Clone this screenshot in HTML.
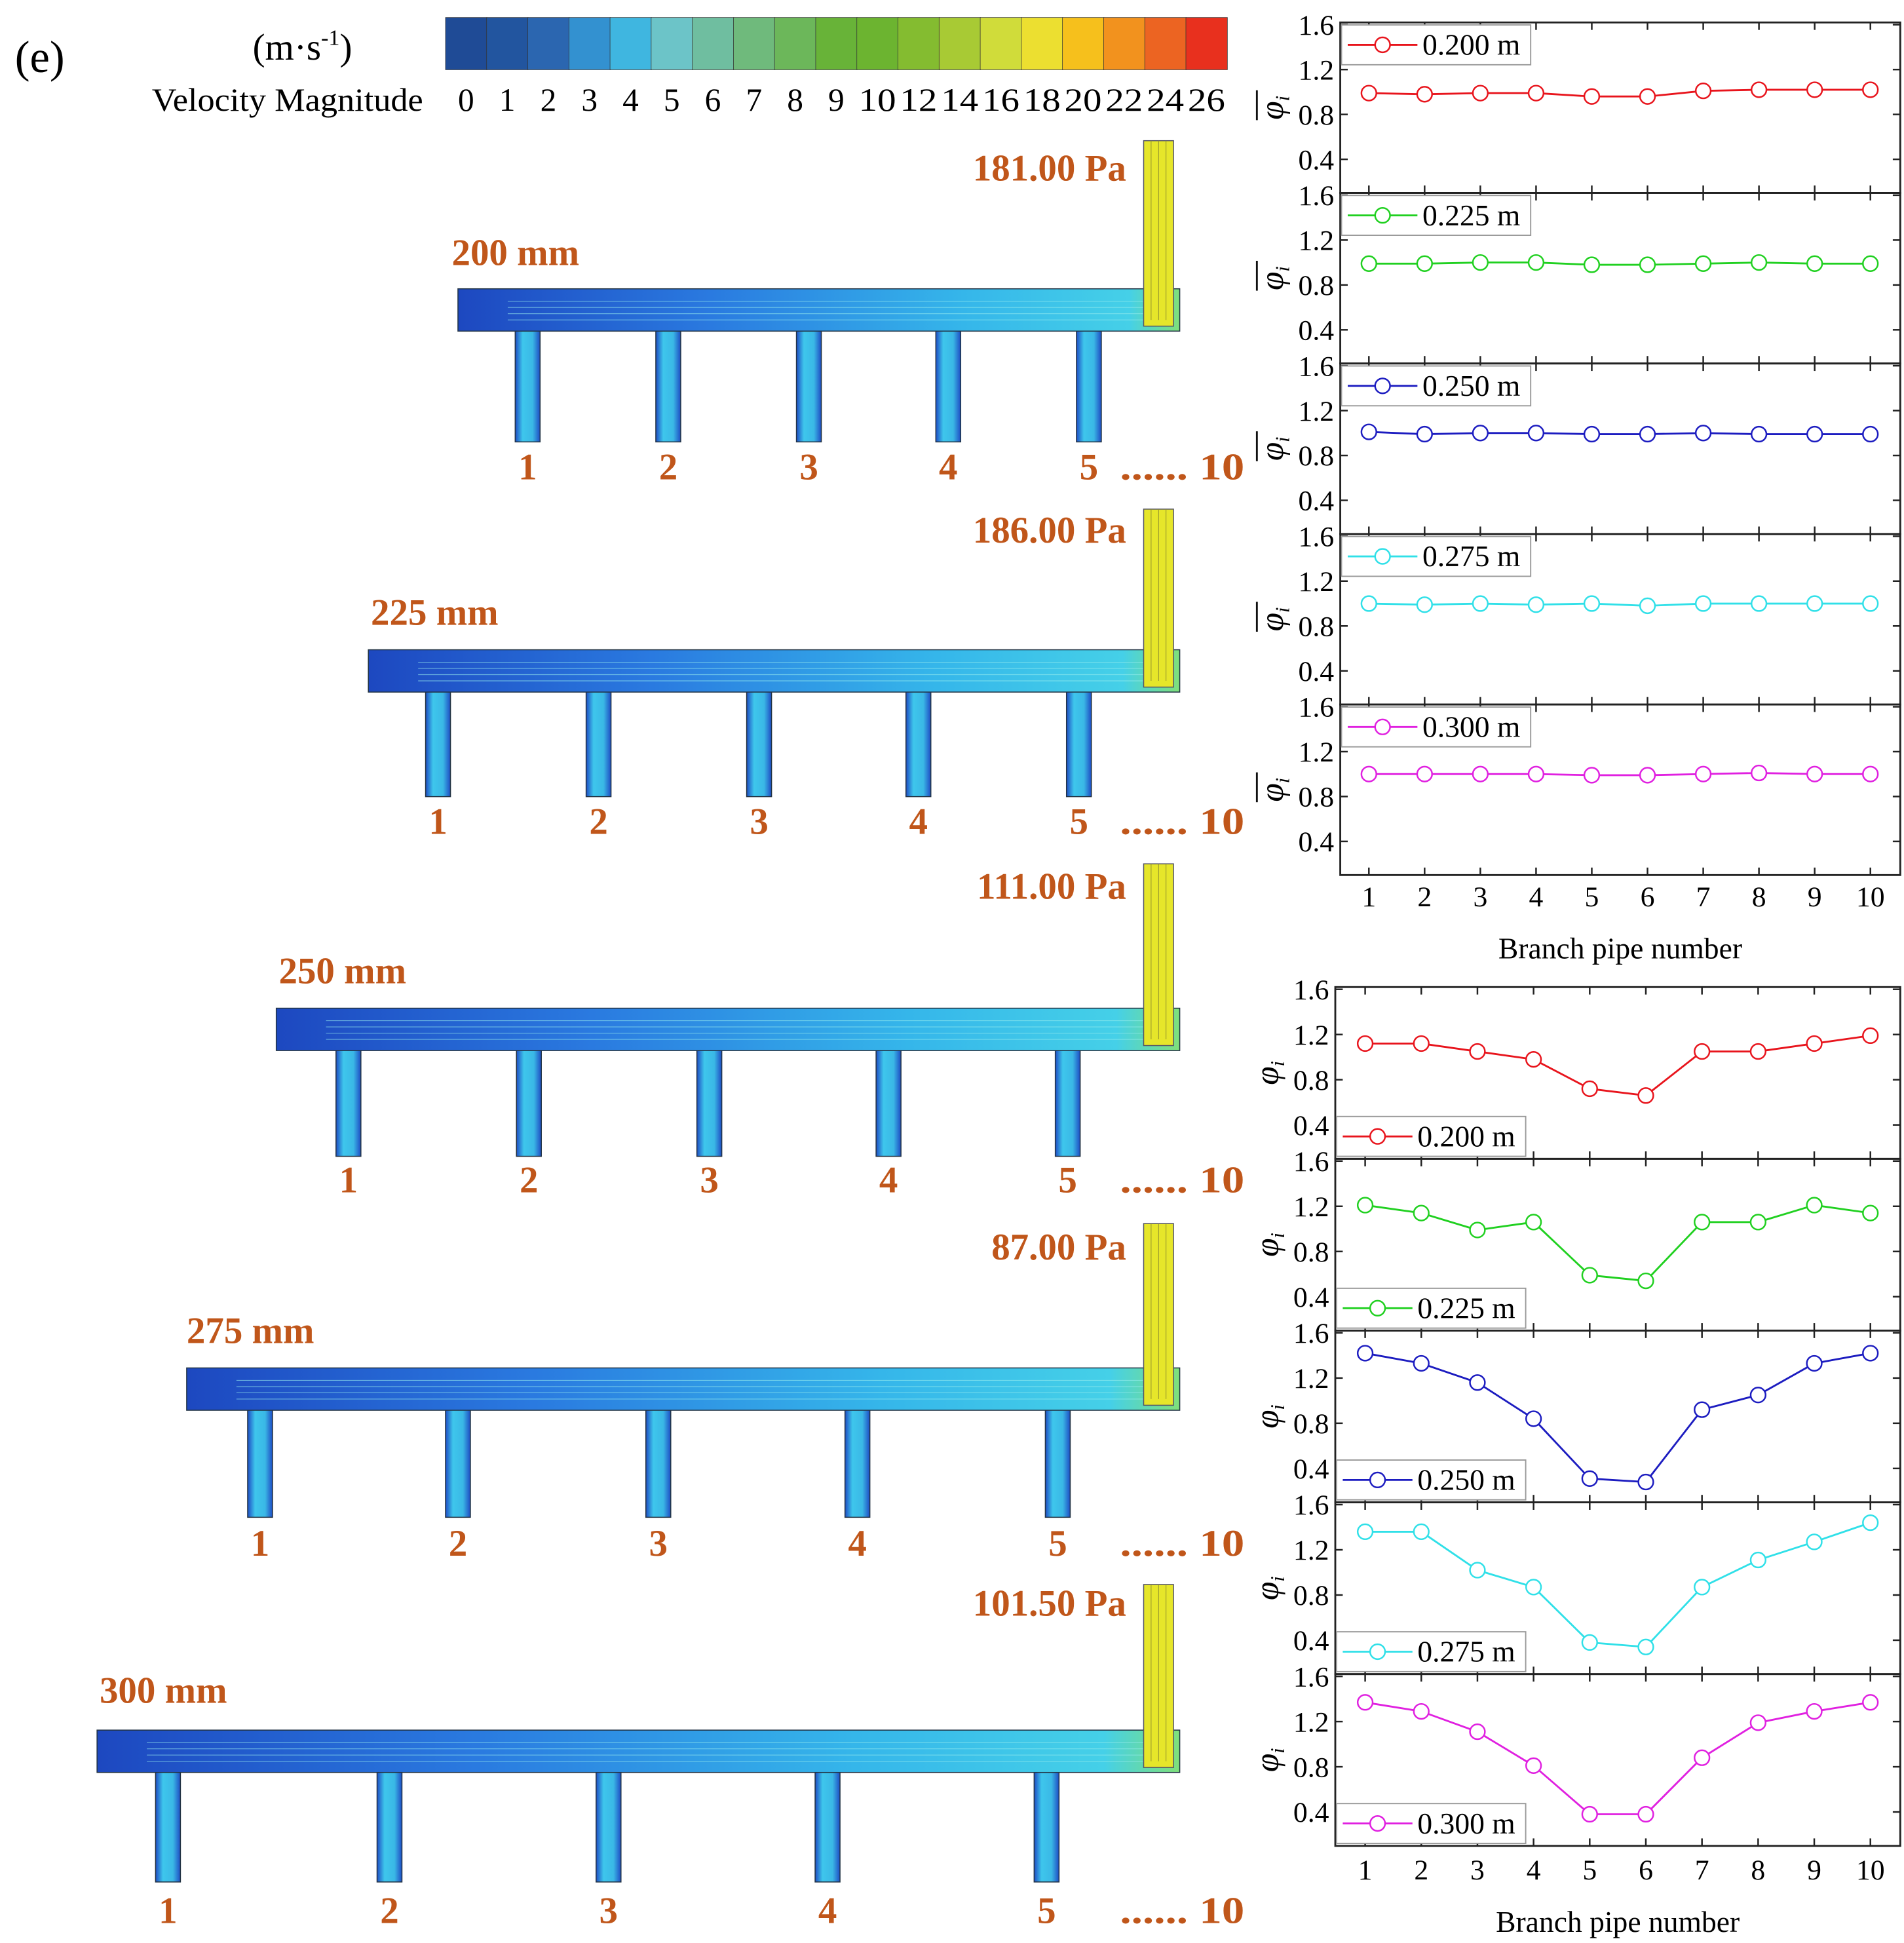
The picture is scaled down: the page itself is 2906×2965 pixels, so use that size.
<!DOCTYPE html>
<html><head><meta charset="utf-8"><style>
html,body{margin:0;padding:0;background:#fff;}
svg{display:block;font-family:"Liberation Serif",serif;}
</style></head><body>
<svg id="root" width="2906" height="2965" viewBox="0 0 1530 1561" xmlns="http://www.w3.org/2000/svg">
<defs>
<linearGradient id="hdr" x1="0" x2="1" y1="0" y2="0">
<stop offset="0" stop-color="#1d48c0"/><stop offset="0.35" stop-color="#2a7ae0"/><stop offset="0.7" stop-color="#35b6ea"/><stop offset="0.93" stop-color="#45d0e8"/><stop offset="1" stop-color="#7fe07a"/></linearGradient>
<linearGradient id="br" x1="0" x2="1"><stop offset="0" stop-color="#1e4cc4"/><stop offset="0.3" stop-color="#3ec6ec"/><stop offset="0.7" stop-color="#3ab8e6"/><stop offset="1" stop-color="#1e4cc4"/></linearGradient>
</defs>
<g id="left"></g>
<g id="charts"></g>
</svg>
<script>
const NS="http://www.w3.org/2000/svg";
const branchNums=[1,2,3,4,5,6,7,8,9,10];
const yTicks=[0.4,0.8,1.2,1.6];
const yTickLabels=["0.4","0.8","1.2","1.6"];
const seriesNames=["0.200 m","0.225 m","0.250 m","0.275 m","0.300 m"];
const seriesColors=["#e8141c","#20d020","#1c1cc0","#30e0e8","#e020e0"];
const avgRed=[0.99,0.98,0.99,0.99,0.96,0.96,1.01,1.02,1.02,1.02];
const avgGreen=[0.99,0.99,1.0,1.0,0.98,0.98,0.99,1.0,0.99,0.99];
const avgBlue=[1.01,0.99,1.0,1.0,0.99,0.99,1.0,0.99,0.99,0.99];
const avgCyan=[1.0,0.99,1.0,0.99,1.0,0.98,1.0,1.0,1.0,1.0];
const avgMagenta=[1.0,1.0,1.0,1.0,0.99,0.99,1.0,1.01,1.0,1.0];
const phiRed=[1.12,1.12,1.05,0.98,0.72,0.66,1.05,1.05,1.12,1.19];
const phiGreen=[1.21,1.14,0.99,1.06,0.59,0.54,1.06,1.06,1.21,1.14];
const phiBlue=[1.42,1.33,1.16,0.84,0.31,0.28,0.92,1.05,1.33,1.42];
const phiCyan=[1.36,1.36,1.02,0.87,0.38,0.34,0.87,1.11,1.27,1.44];
const phiMagenta=[1.37,1.29,1.11,0.81,0.38,0.38,0.88,1.19,1.29,1.37];
const cbLabels=["0","1","2","3","4","5","6","7","8","9","10","12","14","16","18","20","22","24","26"];
const cbColors=["#1f4b96","#22559f","#2b66b0","#3391d0","#3fb6e0","#6cc4c8","#6fbea0","#6fba7c","#6cb75a","#68b338","#6cb430","#84bc30","#a8ca34","#d0dc3a","#ecdf30","#f6c01c","#f2921e","#ec6422","#e8301e"];

function el(tag,attrs,parent,text){const e=document.createElementNS(NS,tag);for(const k in attrs)e.setAttribute(k,attrs[k]);if(text!==undefined)e.textContent=text;parent.appendChild(e);return e;}

const L=document.getElementById('left');
let t=el('text',{x:12,y:58,'font-size':36},L,'(e)');


t=el('text',{x:203,y:48,'font-size':30},L,'(m·s');


el('tspan',{'font-size':18,dy:-12},t,'-1');
el('tspan',{'font-size':30,dy:12},t,')');
t=el('text',{x:122,y:89,'font-size':26,textLength:218,lengthAdjust:'spacingAndGlyphs'},L,'Velocity Magnitude');


const cbX=358,cbW=628/19;
cbColors.forEach((c,i)=>{
  const r=el('rect',{x:cbX+i*cbW,y:14,width:cbW+0.3,height:42,fill:c,stroke:'#333','stroke-width':0.4},L);
  
  
});
cbLabels.forEach((s,i)=>{
  const tt=el('text',{x:cbX+cbW/2+i*cbW,y:89,'font-size':26,'text-anchor':'middle',textLength:s.length>1?30:13,lengthAdjust:'spacingAndGlyphs'},L,s);
  
  
});

const diagrams=[
 {xl:368,hy:232,ry:113,br:[424,537,650,762,875],bb:355,ly:385,pa:'181.00 Pa',pay:145,mm:'200 mm',mmx:363,mmy:213},
 {xl:296,hy:522,ry:409,br:[352,481,610,738,867],bb:640,ly:670,pa:'186.00 Pa',pay:436,mm:'225 mm',mmx:298,mmy:502},
 {xl:222,hy:810,ry:694,br:[280,425,570,714,858],bb:929,ly:958,pa:'111.00 Pa',pay:722,mm:'250 mm',mmx:224,mmy:790},
 {xl:150,hy:1099,ry:983,br:[209,368,529,689,850],bb:1219,ly:1250,pa:'87.00 Pa',pay:1012,mm:'275 mm',mmx:150,mmy:1079},
 {xl:78,hy:1390,ry:1273,br:[135,313,489,665,841],bb:1512,ly:1545,pa:'101.50 Pa',pay:1298,mm:'300 mm',mmx:80,mmy:1368}
];
const OR='#c0561a';
diagrams.forEach((d,k)=>{
  const g=el('g',{},L);
  
  
  d.br.forEach((bx,i)=>{
    const b=el('rect',{x:bx-10,y:d.hy+30,width:20,height:d.bb-d.hy-30,fill:'url(#br)',stroke:'#234',"stroke-width":0.8},g);
    
    
    const n=el('text',{x:bx,y:d.ly,'font-size':30,'font-weight':'bold',fill:OR,'text-anchor':'middle'},g,String(i+1));
    
    
  });
  const h=el('rect',{x:d.xl,y:d.hy,width:948-d.xl,height:34,fill:'url(#hdr)',stroke:'#234','stroke-width':0.8},g);
  
  
  for(let j=0;j<4;j++){el('line',{x1:d.xl+40,x2:940,y1:d.hy+10+j*5,y2:d.hy+10+j*5,stroke:'#9ee','stroke-width':0.6,opacity:0.6},g);}
  const r=el('rect',{x:919,y:d.ry,width:24,height:d.hy-d.ry+30,fill:'#e6e62a',stroke:'#556','stroke-width':0.8},g);
  
  
  for(let j=1;j<4;j++)el('line',{x1:919+j*6,x2:919+j*6,y1:d.ry,y2:d.hy+25,stroke:'#8a8a30','stroke-width':0.5},g);
  const p=el('text',{x:905,y:d.pay,'font-size':30,'font-weight':'bold',fill:OR,'text-anchor':'end'},g,d.pa);
  
  
  const m=el('text',{x:d.mmx,y:d.mmy,'font-size':30,'font-weight':'bold',fill:OR},g,d.mm);
  
  
  const e=el('text',{x:900,y:d.ly,'font-size':30,'font-weight':'bold',fill:OR,textLength:100,lengthAdjust:'spacingAndGlyphs'},g,'...... 10');
  
  
});

const C=document.getElementById('charts');
function group(cfg){
  const {x0,x1,top,ph,px1,px10,series,legendBottom,bar,tickY,titleY,name}=cfg;
  const xs=v=>px1+(v-1)*(px10-px1)/9;
  const g=el('g',{},C);
  
  
  series.forEach((vals,k)=>{
    const pt=top+k*ph, pb=pt+ph;
    const ys=v=>pt+(1.62-v)*(ph/1.52);
    const pg=el('g',{},g);
    
    
    el('rect',{x:x0,y:pt,width:x1-x0,height:ph,fill:'none',stroke:'#222','stroke-width':1.5},pg);
    yTicks.forEach((v,i)=>{
      const y=ys(v);
      el('line',{x1:x0,x2:x0+6,y1:y,y2:y,stroke:'#222','stroke-width':1.3},pg);
      el('line',{x1:x1,x2:x1-6,y1:y,y2:y,stroke:'#222','stroke-width':1.3},pg);
      const tl=el('text',{x:x0-5,y:y+8,'font-size':23,'text-anchor':'end'},pg,yTickLabels[i]);
      
      
    });
    branchNums.forEach(n=>{
      el('line',{x1:xs(n),x2:xs(n),y1:pb,y2:pb-6,stroke:'#222','stroke-width':1.3},pg);
      el('line',{x1:xs(n),x2:xs(n),y1:pt,y2:pt+6,stroke:'#222','stroke-width':1.3},pg);
    });
    const yl=el('text',{transform:`translate(${x0-46},${pt+ph/2}) rotate(-90)`,'font-size':27,'font-style':'italic','text-anchor':'middle'},pg,'φ');
    
    
    el('tspan',{'font-size':16,dy:5},yl,'i');
    if(bar)el('line',{x1:x0-67,x2:x0-67,y1:pt+ph/2-14,y2:pt+ph/2+10,stroke:'#111','stroke-width':1.5},pg);
    const col=seriesColors[k];
    const line=el('polyline',{points:vals.map((v,i)=>xs(branchNums[i])+','+ys(v)).join(' '),fill:'none',stroke:col,'stroke-width':1.5},pg);
    
    
    vals.forEach((v,i)=>{
      const c=el('circle',{cx:xs(branchNums[i]),cy:ys(v),r:6,fill:'#fff',stroke:col,'stroke-width':1.3},pg);
      
      
    });
    const ly=legendBottom?pb-34:pt+2;
    const lg=el('g',{},pg);
    
    
    el('rect',{x:x0+1,y:ly,width:152,height:32,fill:'#fff',stroke:'#999','stroke-width':1},lg);
    el('line',{x1:x0+6,x2:x0+62,y1:ly+16,y2:ly+16,stroke:col,'stroke-width':1.5},lg);
    el('circle',{cx:x0+34,cy:ly+16,r:6,fill:'#fff',stroke:col,'stroke-width':1.3},lg);
    el('text',{x:x0+66,y:ly+24,'font-size':24},lg,seriesNames[k]);
  });
  branchNums.forEach(n=>{
    const tl=el('text',{x:xs(n),y:tickY,'font-size':23,'text-anchor':'middle'},g,String(n));
    
    
  });
  const xt=el('text',{x:(x0+x1)/2,y:titleY,'font-size':24,'text-anchor':'middle'},g,'Branch pipe number');
  
  
}
group({name:'average-ratio-chart',x0:1077,x1:1527,top:18,ph:137,px1:1100,px10:1503,series:[avgRed,avgGreen,avgBlue,avgCyan,avgMagenta],legendBottom:false,bar:true,tickY:728,titleY:770});
group({name:'flow-ratio-chart',x0:1073,x1:1527,top:793,ph:138,px1:1097,px10:1503,series:[phiRed,phiGreen,phiBlue,phiCyan,phiMagenta],legendBottom:true,bar:false,tickY:1510,titleY:1552});
</script>
</body></html>
